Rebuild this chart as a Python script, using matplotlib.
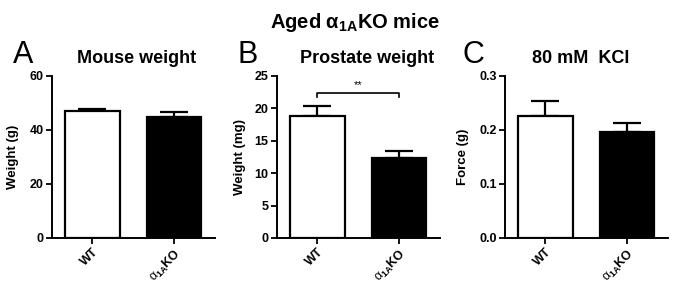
import matplotlib
matplotlib.use('Agg')
import matplotlib.pyplot as plt

plt.rcParams['font.family'] = ['Liberation Sans', 'DejaVu Sans']
plt.rcParams['mathtext.fontset'] = 'custom'
plt.rcParams['mathtext.rm'] = 'Liberation Sans'
plt.rcParams['mathtext.it'] = 'Liberation Sans:italic'
plt.rcParams['mathtext.bf'] = 'Liberation Sans:bold'

# data (mean and SEM)
groups = ['WT', r'$\mathrm{\alpha}_{\mathbf{1A}}$KO']
mouse_weight = [47.0, 44.9]
mouse_weight_err = [0.9, 1.6]
prostate_weight = [18.8, 12.4]
prostate_weight_err = [1.6, 1.1]
kcl_force = [0.226, 0.196]
kcl_force_err = [0.027, 0.017]

panels = [
    ('A', 'Mouse weight', 'Weight (g)', mouse_weight, mouse_weight_err,
     60, [0, 20, 40, 60], '{:.0f}'),
    ('B', 'Prostate weight', 'Weight (mg)', prostate_weight, prostate_weight_err,
     25, [0, 5, 10, 15, 20, 25], '{:.0f}'),
    ('C', '80 mM  KCl', 'Force (g)', kcl_force, kcl_force_err,
     0.3, [0.0, 0.1, 0.2, 0.3], '{:.1f}'),
]

W, H = 683, 295
fig = plt.figure(figsize=(W / 100, H / 100), dpi=100)

axis_left = [52, 277, 505]
letter_x = [13, 237, 463]
subtitle_x = [137, 367, 581]
ylabel_x = [19, 246, 469]

for i, (letter, subtitle, ylabel, vals, errs, ymax, yticks, fmt) in enumerate(panels):
    ax = fig.add_axes([axis_left[i] / W, (H - 238) / H, 163 / W, 162 / H])
    x = [0, 1]
    ax.bar(x, vals, width=0.67, color=['white', 'black'], edgecolor='black',
           linewidth=1.6, zorder=2)
    ax.errorbar(x, vals, yerr=[[0, 0], errs], fmt='none', ecolor='black',
                elinewidth=1.6, capsize=10, capthick=1.6, zorder=1)
    ax.set_xlim(-0.49, 1.5)
    ax.set_ylim(0, ymax)
    ax.set_yticks(yticks)
    ax.set_yticklabels([fmt.format(t) for t in yticks], fontweight='bold', fontsize=9)
    ax.set_xticks(x)
    ax.set_xticklabels(groups, rotation=45, ha='right', rotation_mode='anchor',
                       fontweight='bold', fontsize=9)
    for s in ['top', 'right']:
        ax.spines[s].set_visible(False)
    for s in ['left', 'bottom']:
        ax.spines[s].set_linewidth(1.4)
    ax.tick_params(direction='out', length=4, width=1.3, pad=2)
    ax.set_ylabel(ylabel, fontweight='bold', fontsize=9.5)
    ax.yaxis.set_label_coords((ylabel_x[i] - axis_left[i]) / 163, 0.5)

    fig.text(letter_x[i] / W, 1 - 63 / H, letter, fontsize=22, ha='left', va='baseline')
    fig.text(subtitle_x[i] / W, 1 - 63 / H, subtitle, fontsize=13, fontweight='bold',
             ha='center', va='baseline')

    if letter == 'B':
        yb, yt = 21.7, 22.3
        ax.plot([0, 0, 1, 1], [yb, yt, yt, yb], color='black', lw=1.2, clip_on=False)
        ax.text(0.5, 22.8, '**', ha='center', va='bottom', fontsize=8)

fig.text(355 / W, 1 - 28 / H, r'Aged α$_{\mathbf{1A}}$KO mice', fontsize=14.5,
         fontweight='bold', ha='center', va='baseline')

fig.savefig('out.png', dpi=100)
